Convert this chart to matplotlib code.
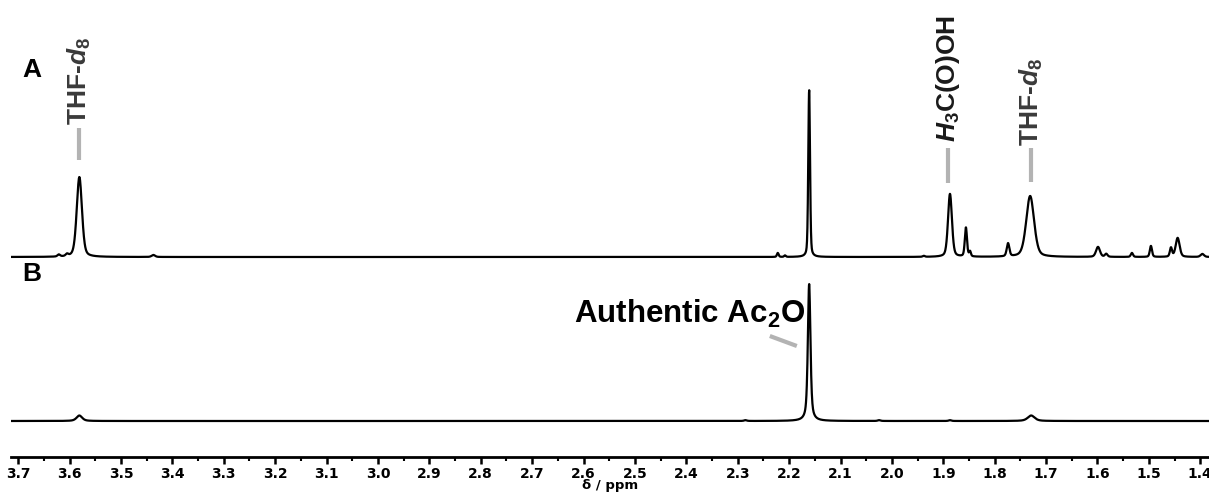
import matplotlib
matplotlib.use("Agg")
import matplotlib.pyplot as plt
import numpy as np

# peak lists: shift (ppm), height (px), width (ppm)
shift_a = [3.621, 3.605, 3.581, 3.437, 2.222, 2.208, 2.161, 1.938, 1.887, 1.856, 1.848,
           1.774, 1.731, 1.599, 1.583, 1.533, 1.496, 1.457, 1.444, 1.396]
height_a = [2, 2, 80, 2, 4, 1.5, 167, 1, 63, 29, 5, 13, 61, 10, 3, 4, 11, 9, 19, 3]
width_a = [0.006, 0.006, 0.012, 0.008, 0.004, 0.004, 0.004, 0.005, 0.009, 0.005, 0.004,
           0.006, 0.018, 0.009, 0.006, 0.005, 0.005, 0.005, 0.009, 0.008]

shift_b = [3.581, 2.285, 2.161, 2.025, 1.887, 1.729]
height_b = [5.5, 0.8, 137, 0.8, 0.8, 5.5]
width_b = [0.013, 0.006, 0.006, 0.006, 0.006, 0.016]

ticks = [3.7, 3.6, 3.5, 3.4, 3.3, 3.2, 3.1, 3.0, 2.9, 2.8, 2.7, 2.6, 2.5, 2.4, 2.3,
         2.2, 2.1, 2.0, 1.9, 1.8, 1.7, 1.6, 1.5, 1.4]

plt.rcParams['mathtext.fontset'] = 'custom'
plt.rcParams['mathtext.rm'] = 'Liberation Sans:bold'
plt.rcParams['mathtext.it'] = 'Liberation Sans:italic:bold'
plt.rcParams['mathtext.bf'] = 'Liberation Sans:bold'


def spectrum(ppm, shifts, heights, widths, eta=0.5):
    # pseudo-Voigt line shape for each peak
    y = np.zeros_like(ppm)
    for c, h, w in zip(shifts, heights, widths):
        g = w / 2
        lor = g**2 / ((ppm - c)**2 + g**2)
        gau = np.exp(-4 * np.log(2) * (ppm - c)**2 / w**2)
        y += h * (eta * lor + (1 - eta) * gau)
    return y


ppm = np.linspace(3.72, 1.38, 6000)
base_a, base_b = 200, 36

fig = plt.figure(figsize=(12.09, 4.96), dpi=100)
ax = fig.add_axes([11 / 1209, 39 / 496, 1198 / 1209, 457 / 496])

ax.plot(ppm, base_a + spectrum(ppm, shift_a, height_a, width_a, 0.35), color='black', lw=1.6)
ax.plot(ppm, base_b + spectrum(ppm, shift_b, height_b, width_b, 0.6), color='black', lw=1.6)

ax.set_xlim(3.714, 1.383)
ax.set_ylim(0, 457)
for s in ['top', 'left', 'right']:
    ax.spines[s].set_visible(False)
ax.spines['bottom'].set_linewidth(2)
ax.set_yticks([])
ax.set_xticks(ticks)
ax.set_xticklabels([f'{t:.1f}' for t in ticks], fontsize=10, fontweight='bold')
ax.set_xticks(np.array(ticks[:-1]) - 0.05, minor=True)
ax.tick_params(axis='x', which='major', length=5, width=1.8, pad=2)
ax.tick_params(axis='x', which='minor', length=3, width=1.5)
ax.set_xlabel('δ / ppm', fontsize=9.5, fontweight='bold', labelpad=-1)

txt = dict(family='Liberation Sans', fontweight='bold', fontsize=19)
grey = '#b3b3b3'

ax.text(3.692, 380, 'A', ha='left', va='baseline', color='black', **txt)
ax.text(3.692, 176, 'B', ha='left', va='baseline', color='black', **txt)

# labels in trace A
ax.plot([3.581, 3.581], [297, 329], color=grey, lw=3, solid_capstyle='butt')
ax.text(3.581, 332, r'THF-$\mathit{d_8}$', rotation=90, ha='center', va='bottom',
        color='#3a3a3a', **txt)
ax.plot([1.891, 1.891], [274, 309], color=grey, lw=3, solid_capstyle='butt')
ax.text(1.891, 315, r'$\mathit{H}_\mathrm{3}$C(O)OH', rotation=90, ha='center', va='bottom',
        color='#1a1a1a', **txt)
ax.plot([1.729, 1.729], [275, 309], color=grey, lw=3, solid_capstyle='butt')
ax.text(1.729, 311, r'THF-$\mathit{d_8}$', rotation=90, ha='center', va='bottom',
        color='#3a3a3a', **txt)

# label in trace B
ax.plot([2.2375, 2.185], [121, 111], color=grey, lw=3, solid_capstyle='butt')
ax.text(2.619, 134, r'Authentic Ac$_2$O', ha='left', va='baseline', color='black',
        family='Liberation Sans', fontweight='bold', fontsize=22.5)

fig.savefig('out.png', dpi=100)
